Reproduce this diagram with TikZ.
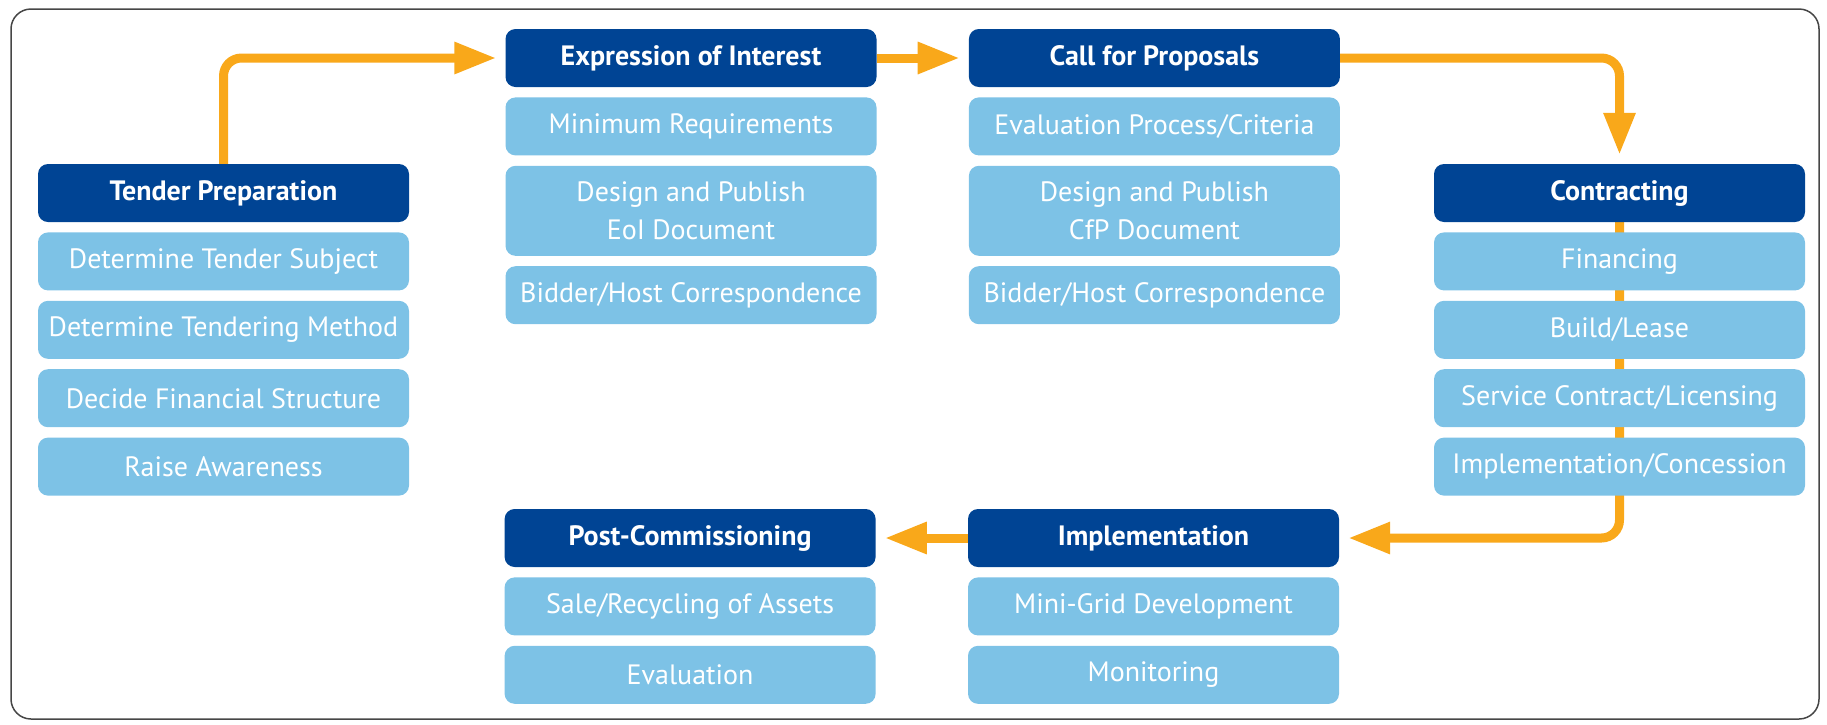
\documentclass[tikz,border=0pt]{standalone}
\usepackage{fontspec}
\setmainfont{PT Sans}
\usetikzlibrary{positioning}
\usetikzlibrary{arrows.meta}
\usetikzlibrary{backgrounds}
\definecolor{headblue}{RGB}{0,68,148}
\definecolor{itemblue}{RGB}{125,194,230}
\definecolor{floworange}{RGB}{249,168,26}
\definecolor{framegray}{RGB}{70,70,70}
\tikzset{x=1pt, y=-1pt, % One unit per pixel, y pointing down
node distance=10pt, % Gap between stacked boxes
every node/.style={ % Sets the properties for each box
rounded corners=10pt,
minimum width=371pt,
minimum height=58pt,
inner sep=0pt,
align=center,
text=white,
font=\fontsize{28}{38}\selectfont},
head/.style={ % Dark title box of a stage
fill=headblue,
font=\fontsize{28}{38}\selectfont\bfseries},
item/.style={ % Light box for each task
fill=itemblue},
flow/.style={ % Orange arrows from stage to stage
draw=floworange,
line width=9pt,
-{Triangle[length=42pt,width=30pt]},
shorten >=9pt,
rounded corners=18pt}}

\begin{document}
\begin{tikzpicture}
    \useasboundingbox (0,0) rectangle (1827,724);
    \draw[framegray, line width=1.5pt, rounded corners=20pt] (11,9) rectangle (1819,719);
    \node[head] (prep) at (223.5,193) {Tender Preparation};
    \node[item, below=of prep] (prep1) {Determine Tender Subject};
    \node[item, below=of prep1] (prep2) {Determine Tendering Method};
    \node[item, below=of prep2] (prep3) {Decide Financial Structure};
    \node[item, below=of prep3] (prep4) {Raise Awareness};
    \node[head] (eoi) at (691,58) {Expression of Interest};
    \node[item, below=of eoi] (eoi1) {Minimum Requirements};
    \node[item, below=of eoi1, minimum height=90pt] (eoi2) {Design and Publish\\EoI Document};
    \node[item, below=of eoi2] (eoi3) {Bidder/Host Correspondence};
    \node[head, right=92pt of eoi] (cfp) {Call for Proposals};
    \node[item, below=of cfp] (cfp1) {Evaluation Process/Criteria};
    \node[item, below=of cfp1, minimum height=90pt] (cfp2) {Design and Publish\\CfP Document};
    \node[item, below=of cfp2] (cfp3) {Bidder/Host Correspondence};
    \node[head] (con) at (1619.5,193) {Contracting};
    \node[item, below=of con] (con1) {Financing};
    \node[item, below=of con1] (con2) {Build/Lease};
    \node[item, below=of con2] (con3) {Service Contract/Licensing};
    \node[item, below=of con3] (con4) {Implementation/Concession};
    \node[head] (impl) at (1153.5,538) {Implementation};
    \node[item, below=of impl] (impl1) {Mini-Grid Development};
    \node[item, below=of impl1] (impl2) {Monitoring};
    \node[head, left=92pt of impl] (post) {Post-Commissioning};
    \node[item, below=of post] (post1) {Sale/Recycling of Assets};
    \node[item, below=of post1] (post2) {Evaluation};
    \draw[flow] (prep.north) |- (eoi.west);
    \draw[flow] (eoi.east) -- (cfp.west);
    \draw[flow] (cfp.east) -| (con.north);
    \begin{scope}[on background layer]
    \draw[flow] (con.south) |- (impl.east);
    \end{scope}
    \draw[flow] (impl.west) -- (post.east);
\end{tikzpicture}
\end{document}
